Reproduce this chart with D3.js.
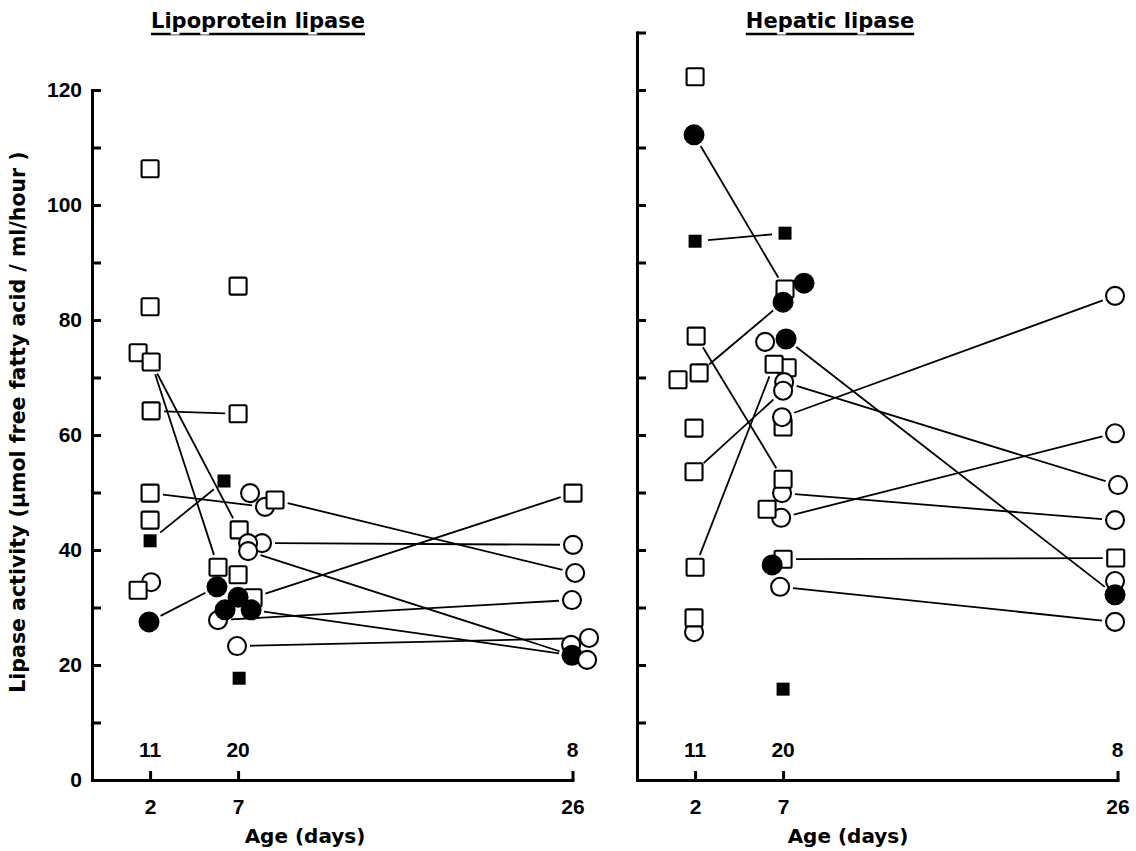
<!DOCTYPE html>
<html><head><meta charset="utf-8">
<script src="https://cdn.jsdelivr.net/npm/d3@7"></script>
<style>
html,body{margin:0;padding:0;background:#fff;}
svg{display:block;background:#fff;}
</style></head>
<body>
<svg id="chart" width="1136" height="851"></svg>
<script>
// ---------- DATA ----------
// marker codes: os = open square, fs = filled square, oc = open circle, fc = filled circle
const ageTicks = [2, 7, 26];
const groupCounts = ["11", "20", "8"];
const yTicksLeft = d3.range(0, 121, 10);
const yTicksRight = d3.range(0, 131, 10);
const panelTitles = ["Lipoprotein lipase", "Hepatic lipase"];
const xAxisTitle = "Age (days)";
const yAxisTitle = "Lipase activity (\u03bcmol free fatty acid / ml/hour )";

// Lipoprotein lipase: [age (days, as plotted), activity, marker]
const lplPoints = [
  [2.0,106.3,'os'],[2.0,82.3,'os'],[1.32,74.3,'os'],[2.06,72.7,'os'],[2.06,64.2,'os'],
  [2.0,49.9,'os'],[2.0,45.2,'os'],[2.0,41.6,'fs'],[2.06,34.4,'oc'],[1.32,33.0,'os'],[1.94,27.5,'fc'],
  [7.0,85.9,'os'],[7.0,63.7,'os'],[6.2,52.0,'fs'],[7.68,49.9,'oc'],[8.53,47.5,'oc'],[9.1,48.7,'os'],
  [7.06,43.5,'os'],[8.36,41.2,'oc'],[7.57,41.2,'oc'],[7.57,39.8,'oc'],[5.86,37.0,'os'],[7.0,35.7,'os'],
  [7.85,31.7,'os'],[5.86,27.8,'oc'],[6.94,23.3,'oc'],[7.06,17.7,'fs'],
  [5.8,33.6,'fc'],[7.0,31.8,'fc'],[6.26,29.6,'fc'],[7.74,29.6,'fc'],
  [26.03,49.9,'os'],[26.03,40.9,'oc'],[26.15,36.0,'oc'],[25.97,31.3,'oc'],[26.94,24.7,'oc'],
  [25.92,23.5,'oc'],[25.97,21.7,'fc'],[26.83,20.9,'oc']
];
// connecting lines: [ageA, valueA, ageB, valueB]
const lplLinks = [
  [2.06,72.7,5.86,37.0],[2.06,72.7,7.06,43.5],[2.06,64.2,7.0,63.7],[2.0,49.9,8.53,47.5],
  [2.0,41.6,6.2,52.0],[1.94,27.5,5.8,33.6],
  [9.1,48.7,26.15,36.0],[8.36,41.2,26.03,40.9],[7.57,39.8,25.97,21.7],[7.85,31.7,26.03,49.9],
  [5.86,27.8,25.97,31.3],[6.94,23.3,26.94,24.7],[7.74,29.6,25.97,21.7]
];

// Hepatic lipase
const hlPoints = [
  [2.0,122.3,'os'],[1.94,112.2,'fc'],[2.0,93.7,'fs'],[2.06,77.2,'os'],[1.03,69.6,'os'],[2.23,70.8,'os'],
  [1.94,61.2,'os'],[1.94,53.6,'os'],[2.0,37.0,'os'],[1.94,25.7,'oc'],[1.94,28.2,'os'],
  [7.11,95.1,'fs'],[7.11,85.4,'os'],[8.19,86.4,'fc'],[7.0,83.1,'fc'],[5.98,76.2,'oc'],[7.17,76.7,'fc'],
  [7.23,71.7,'os'],[6.49,72.3,'os'],[7.06,69.2,'oc'],[7.0,67.7,'oc'],[7.0,61.4,'os'],[6.94,63.1,'oc'],
  [6.94,49.9,'oc'],[7.0,52.3,'os'],[6.89,45.6,'oc'],[6.09,47.1,'os'],[7.0,38.4,'os'],[6.38,37.4,'fc'],
  [6.83,33.6,'oc'],[7.0,15.8,'fs'],
  [25.86,84.2,'oc'],[25.86,60.3,'oc'],[26.03,51.3,'oc'],[25.86,45.2,'oc'],[25.9,38.6,'os'],
  [25.86,34.6,'oc'],[25.86,32.2,'fc'],[25.86,27.5,'oc']
];
const hlLinks = [
  [1.94,112.2,7.11,85.4],[2.0,93.7,7.11,95.1],[2.23,70.8,7.0,83.1],[2.06,77.2,7.0,52.3],
  [1.94,53.6,7.0,67.7],[2.0,37.0,6.49,72.3],
  [7.17,76.7,25.86,32.2],[7.06,69.2,26.03,51.3],[6.94,63.1,25.86,84.2],[6.94,49.9,25.86,45.2],
  [6.89,45.6,25.86,60.3],[7.0,38.4,25.9,38.6],[6.83,33.6,25.86,27.5]
];

// ---------- DRAWING ----------
const svg = d3.select('#chart');
const TEXT_FONT = "'DejaVu Sans', sans-serif";
const NUM_FONT = "'Liberation Sans', Arial, sans-serif";

const y = d3.scaleLinear().domain([0, 120]).range([780, 90]);
const yRight = d3.scaleLinear().domain([0, 130]).range([780, y(130)]);
const xLeft = d3.scaleLinear().domain([-1.3, 26]).range([92, 572.5]);
const xRight = d3.scaleLinear().domain([-1.3, 26]).range([637, 1117.5]);

function drawPanel(o) {
  const g = svg.append('g');
  const x = o.x, ys = o.y;

  // connecting lines (stop short of the markers)
  const gap = 13;
  g.append('g').selectAll('line').data(o.links).join('line')
    .each(function (d) {
      const x1 = x(d[0]), y1 = ys(d[1]), x2 = x(d[2]), y2 = ys(d[3]);
      const L = Math.hypot(x2 - x1, y2 - y1), k = gap / L;
      d3.select(this)
        .attr('x1', x1 + (x2 - x1) * k).attr('y1', y1 + (y2 - y1) * k)
        .attr('x2', x2 - (x2 - x1) * k).attr('y2', y2 - (y2 - y1) * k);
    })
    .attr('stroke', '#000').attr('stroke-width', 1.8);

  // y axis
  const ya = d3.axisLeft(ys).tickValues(o.yTicks).tickSizeInner(-9).tickSizeOuter(0).tickPadding(10)
    .tickFormat(d => (o.yLabels && d % 20 === 0) ? d : '');
  const gy = g.append('g').attr('transform', `translate(${x.range()[0]},0)`).call(ya);
  // x axis
  const xa = d3.axisBottom(x).tickValues(ageTicks).tickSizeInner(-9).tickSizeOuter(0).tickPadding(19);
  const gx = g.append('g').attr('transform', `translate(0,${ys(0)})`).call(xa);
  [gx, gy].forEach(a => {
    a.select('.domain').attr('stroke-width', 3).attr('stroke-linecap', 'square');
    a.selectAll('.tick line').attr('stroke-width', 3);
    a.selectAll('.tick text').attr('fill', '#000')
      .style('font-family', NUM_FONT).style('font-weight', 'bold').style('font-size', '21px');
  });

  // group counts
  g.append('g').selectAll('text').data(ageTicks).join('text')
    .attr('x', d => x(d)).attr('y', 757).attr('text-anchor', 'middle')
    .style('font-family', NUM_FONT).style('font-weight', 'bold').style('font-size', '21px')
    .text((d, i) => groupCounts[i]);

  // x axis title
  g.append('text').attr('x', o.xTitleX).attr('y', 843).attr('text-anchor', 'middle')
    .style('font-family', TEXT_FONT).style('font-weight', 'bold').style('font-size', '20px')
    .text(xAxisTitle);

  // panel title with broken underline
  const t = g.append('text').attr('x', o.titleX).attr('y', 28).attr('text-anchor', 'middle')
    .style('font-family', TEXT_FONT).style('font-weight', 'bold').style('font-size', '21px')
    .attr('fill', '#000').attr('stroke', '#fff').attr('stroke-width', 5)
    .attr('paint-order', 'stroke').text(o.title);
  const bb = t.node().getBBox();
  g.insert('line', () => t.node())
    .attr('x1', bb.x).attr('x2', bb.x + bb.width).attr('y1', 34).attr('y2', 34)
    .attr('stroke', '#000').attr('stroke-width', 2.5);

  // markers
  const mg = g.append('g');
  o.points.forEach(p => {
    const cx = x(p[0]), cy = ys(p[1]), m = p[2];
    if (m === 'os') {
      mg.append('rect').attr('x', cx - 8.5).attr('y', cy - 8.5).attr('width', 17).attr('height', 17)
        .attr('rx', 1.5).attr('fill', '#fff').attr('stroke', '#000').attr('stroke-width', 2.1);
    } else if (m === 'fs') {
      mg.append('rect').attr('x', cx - 6.5).attr('y', cy - 6.5).attr('width', 13).attr('height', 13)
        .attr('fill', '#000');
    } else if (m === 'oc') {
      mg.append('circle').attr('cx', cx).attr('cy', cy).attr('r', 9)
        .attr('fill', '#fff').attr('stroke', '#000').attr('stroke-width', 2.1);
    } else {
      mg.append('circle').attr('cx', cx).attr('cy', cy).attr('r', 10.5).attr('fill', '#000');
    }
  });
}

drawPanel({ x: xLeft, y: y, points: lplPoints, links: lplLinks, yTicks: yTicksLeft, yLabels: true,
  title: panelTitles[0], titleX: 258, xTitleX: 305 });
drawPanel({ x: xRight, y: yRight, points: hlPoints, links: hlLinks, yTicks: yTicksRight, yLabels: false,
  title: panelTitles[1], titleX: 830, xTitleX: 848 });

// y axis title
svg.append('text').attr('transform', 'translate(25,422) rotate(-90)').attr('text-anchor', 'middle')
  .style('font-family', TEXT_FONT).style('font-weight', 'bold').style('font-size', '20.5px')
  .text(yAxisTitle);
</script>
</body></html>
